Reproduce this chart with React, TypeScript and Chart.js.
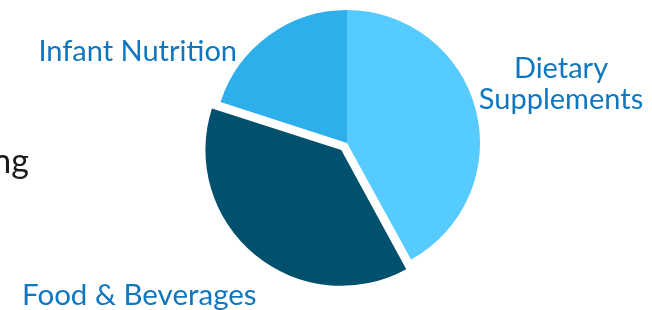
import React, { useEffect, useRef } from "react";
import { Chart, registerables } from "chart.js";

Chart.register(...registerables);

const categories = ["Dietary Supplements", "Food & Beverages", "Infant Nutrition"];
const shares = [42, 38, 20];
const sliceColors = ["#55CBFF", "#00506E", "#2DAFEC"];
const sliceOffsets = [0, 36, 0];
const labelLines = [["Dietary", "Supplements"], ["Food & Beverages"], ["Infant Nutrition"]];

const FONT = "Lato, 'Liberation Sans', sans-serif";
const LABEL_COLOR = "#0F77BF";

// label placement relative to the pie centre: [dx, dy(first baseline), align]
const labelPlacement: [number, number, CanvasTextAlign][] = [
  [214, -65, "center"],
  [-325, 162, "left"],
  [-110, -82, "right"],
];

const labelPlugin = {
  id: "sliceLabels",
  afterDraw(chart: any) {
    const ctx = chart.ctx;
    const meta = chart.getDatasetMeta(0);
    const first = meta.data[0];
    const cx = first.x;
    const cy = first.y;
    ctx.save();
    ctx.fillStyle = LABEL_COLOR;
    ctx.textBaseline = "alphabetic";
    labelLines.forEach((lines, i) => {
      const [dx, dy, align] = labelPlacement[i];
      ctx.textAlign = align;
      ctx.font = `${i === 1 ? 29.5 : 29}px ${FONT}`;
      lines.forEach((line, j) => {
        ctx.fillText(line, cx + dx, cy + dy + j * 31);
      });
    });
    // clipped fragment of a neighbouring text at the left edge
    ctx.fillStyle = "#1a1a1a";
    ctx.font = `34px ${FONT}`;
    ctx.textAlign = "right";
    ctx.fillText("ng", 29, 173);
    ctx.restore();
  },
};

export default function App() {
  const ref = useRef<HTMLCanvasElement>(null);
  useEffect(() => {
    document.body.style.margin = "0";
    const chart = new Chart(ref.current!, {
      type: "pie",
      data: {
        labels: categories,
        datasets: [
          {
            data: shares,
            backgroundColor: sliceColors,
            borderWidth: 0,
            offset: sliceOffsets,
          },
        ],
      },
      options: {
        animation: false,
        responsive: false,
        radius: 133,
        layout: { padding: { left: 42, right: 0, top: 0, bottom: 24 } },
        plugins: {
          legend: { display: false },
          tooltip: { enabled: false },
        },
      },
      plugins: [labelPlugin],
    });
    return () => chart.destroy();
  }, []);
  return (
    <div style={{ position: "absolute", left: 0, top: 0, width: 652, height: 310, background: "#fff" }}>
      <canvas ref={ref} width={652} height={310} style={{ width: 652, height: 310 }} />
    </div>
  );
}
